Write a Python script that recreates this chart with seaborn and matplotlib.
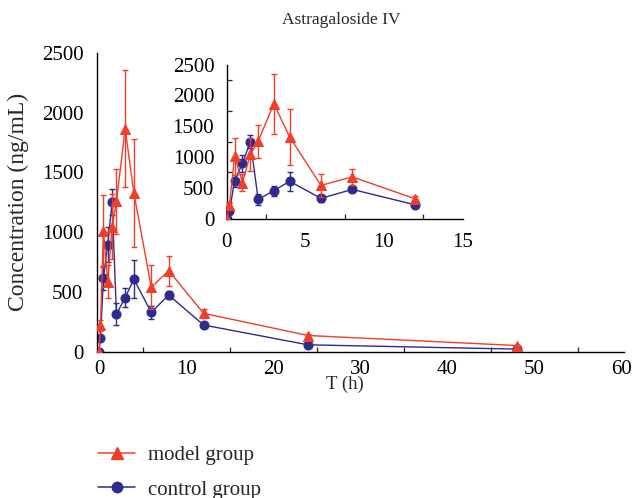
import numpy as np
import pandas as pd
import matplotlib
matplotlib.use("Agg")
import matplotlib.pyplot as plt
from matplotlib.ticker import MultipleLocator
import seaborn as sns

sns.set_style("white")
plt.rcParams['font.family'] = ['Liberation Serif', 'DejaVu Serif']

time_h = [0, 0.167, 0.5, 1, 1.5, 2, 3, 4, 6, 8, 12, 24, 48]
model_mean = [0, 218, 1010, 584, 1045, 1257, 1866, 1327, 538, 677, 320, 134, 50]
model_sd = [0, 45, 300, 140, 270, 270, 490, 450, 185, 125, 40, 12, 8]
control_mean = [0, 114, 614, 895, 1250, 312, 452, 605, 328, 473, 222, 56, 20]
control_sd = [0, 20, 100, 145, 110, 93, 80, 158, 55, 35, 15, 8, 4]

RED = "#EF3E2A"
BLUE = "#2E2B8C"

df = pd.concat([
    pd.DataFrame({"T": time_h, "C": model_mean, "SD": model_sd, "group": "model group"}),
    pd.DataFrame({"T": time_h, "C": control_mean, "SD": control_sd, "group": "control group"}),
])

W, H = 634, 498
fig = plt.figure(figsize=(W / 100, H / 100), dpi=100)
ax = fig.add_axes([97.3 / W, 1 - 351.5 / H, (624 - 97.3) / W, (351.5 - 53) / H])
ax_in = fig.add_axes([226 / W, 1 - 218.5 / H, (463 - 226) / W, (218.5 - 64.7) / H])

styles = {"control group": (BLUE, "o", 6.5, 2), "model group": (RED, "^", 7, 3)}

def draw(a, d):
    for g in ["control group", "model group"]:
        col, mk, ms, z = styles[g]
        sub = d[d["group"] == g]
        a.errorbar(sub["T"], sub["C"], yerr=sub["SD"], fmt="none", ecolor=col,
                   elinewidth=1.0, capsize=2.5, capthick=1.0, zorder=z)
        sns.lineplot(data=sub, x="T", y="C", ax=a, color=col, marker=mk,
                     markersize=ms, markeredgecolor=col, linewidth=1.0,
                     errorbar=None, zorder=z + 0.5, label=g, legend=False)

draw(ax, df)
draw(ax_in, df[df["T"] <= 12])

TICKFS = 15
for a in (ax, ax_in):
    sns.despine(ax=a)
    for s in ("left", "bottom"):
        a.spines[s].set_color("black")
        a.spines[s].set_linewidth(1.0)
    a.set_xlabel("")
    a.set_ylabel("")
    a.tick_params(axis="both", labelsize=TICKFS, colors="black", width=0.9)
    a.tick_params(axis="x", which="major", direction="inout", length=7, pad=2.5)
    a.tick_params(axis="y", which="major", direction="out", length=4, pad=6)
    a.tick_params(which="minor", direction="in", length=3.5, width=0.9,
                  bottom=True, left=True)
    a.patch.set_alpha(0)

ax_in.tick_params(axis="x", which="major", pad=7)
ax_in.tick_params(axis="y", which="major", pad=5)

ax.set_xlim(-0.2, 60.3)
ax.set_ylim(0, 2500)
ax.set_xticks(np.arange(0, 61, 10))
ax.xaxis.set_minor_locator(MultipleLocator(5))
ax.set_yticks(np.arange(0, 2501, 500))
ax.set_xlabel("T (h)", fontsize=13.5)
ax.xaxis.set_label_coords((345 - 97.3) / (624 - 97.3), -(376 - 351.5) / (351.5 - 53))
ax.set_ylabel("Concentration (ng/mL)", fontsize=17)
ax.yaxis.set_label_coords(-(97.3 - 29) / (624 - 97.3), 0.5)

ax_in.set_xlim(-0.05, 15.05)
ax_in.set_ylim(0, 2500)
ax_in.set_xticks(np.arange(0, 16, 5))
ax_in.xaxis.set_minor_locator(MultipleLocator(2.5))
ax_in.set_yticks(np.arange(0, 2501, 500))
ax_in.yaxis.set_minor_locator(MultipleLocator(250))
ax_in.spines["left"].set_position(("data", 0))

fig.text(341 / W, 1 - 20 / H, "Astragaloside IV", ha="center", va="center", fontsize=12.5)

handles = []
for g in ["model group", "control group"]:
    col, mk, ms, _ = styles[g]
    handles.append(plt.Line2D([], [], color=col, marker=mk, markersize=ms + 1,
                              linewidth=1.1, label=g))
LEGFS = 15
fig.legend(handles=handles, loc="upper left", bbox_to_anchor=(90 / W, 1 - 437 / H),
           frameon=False, fontsize=LEGFS, handlelength=1.75, labelspacing=0.72,
           handletextpad=0.65, borderaxespad=0)

fig.savefig("out.png", dpi=100)
